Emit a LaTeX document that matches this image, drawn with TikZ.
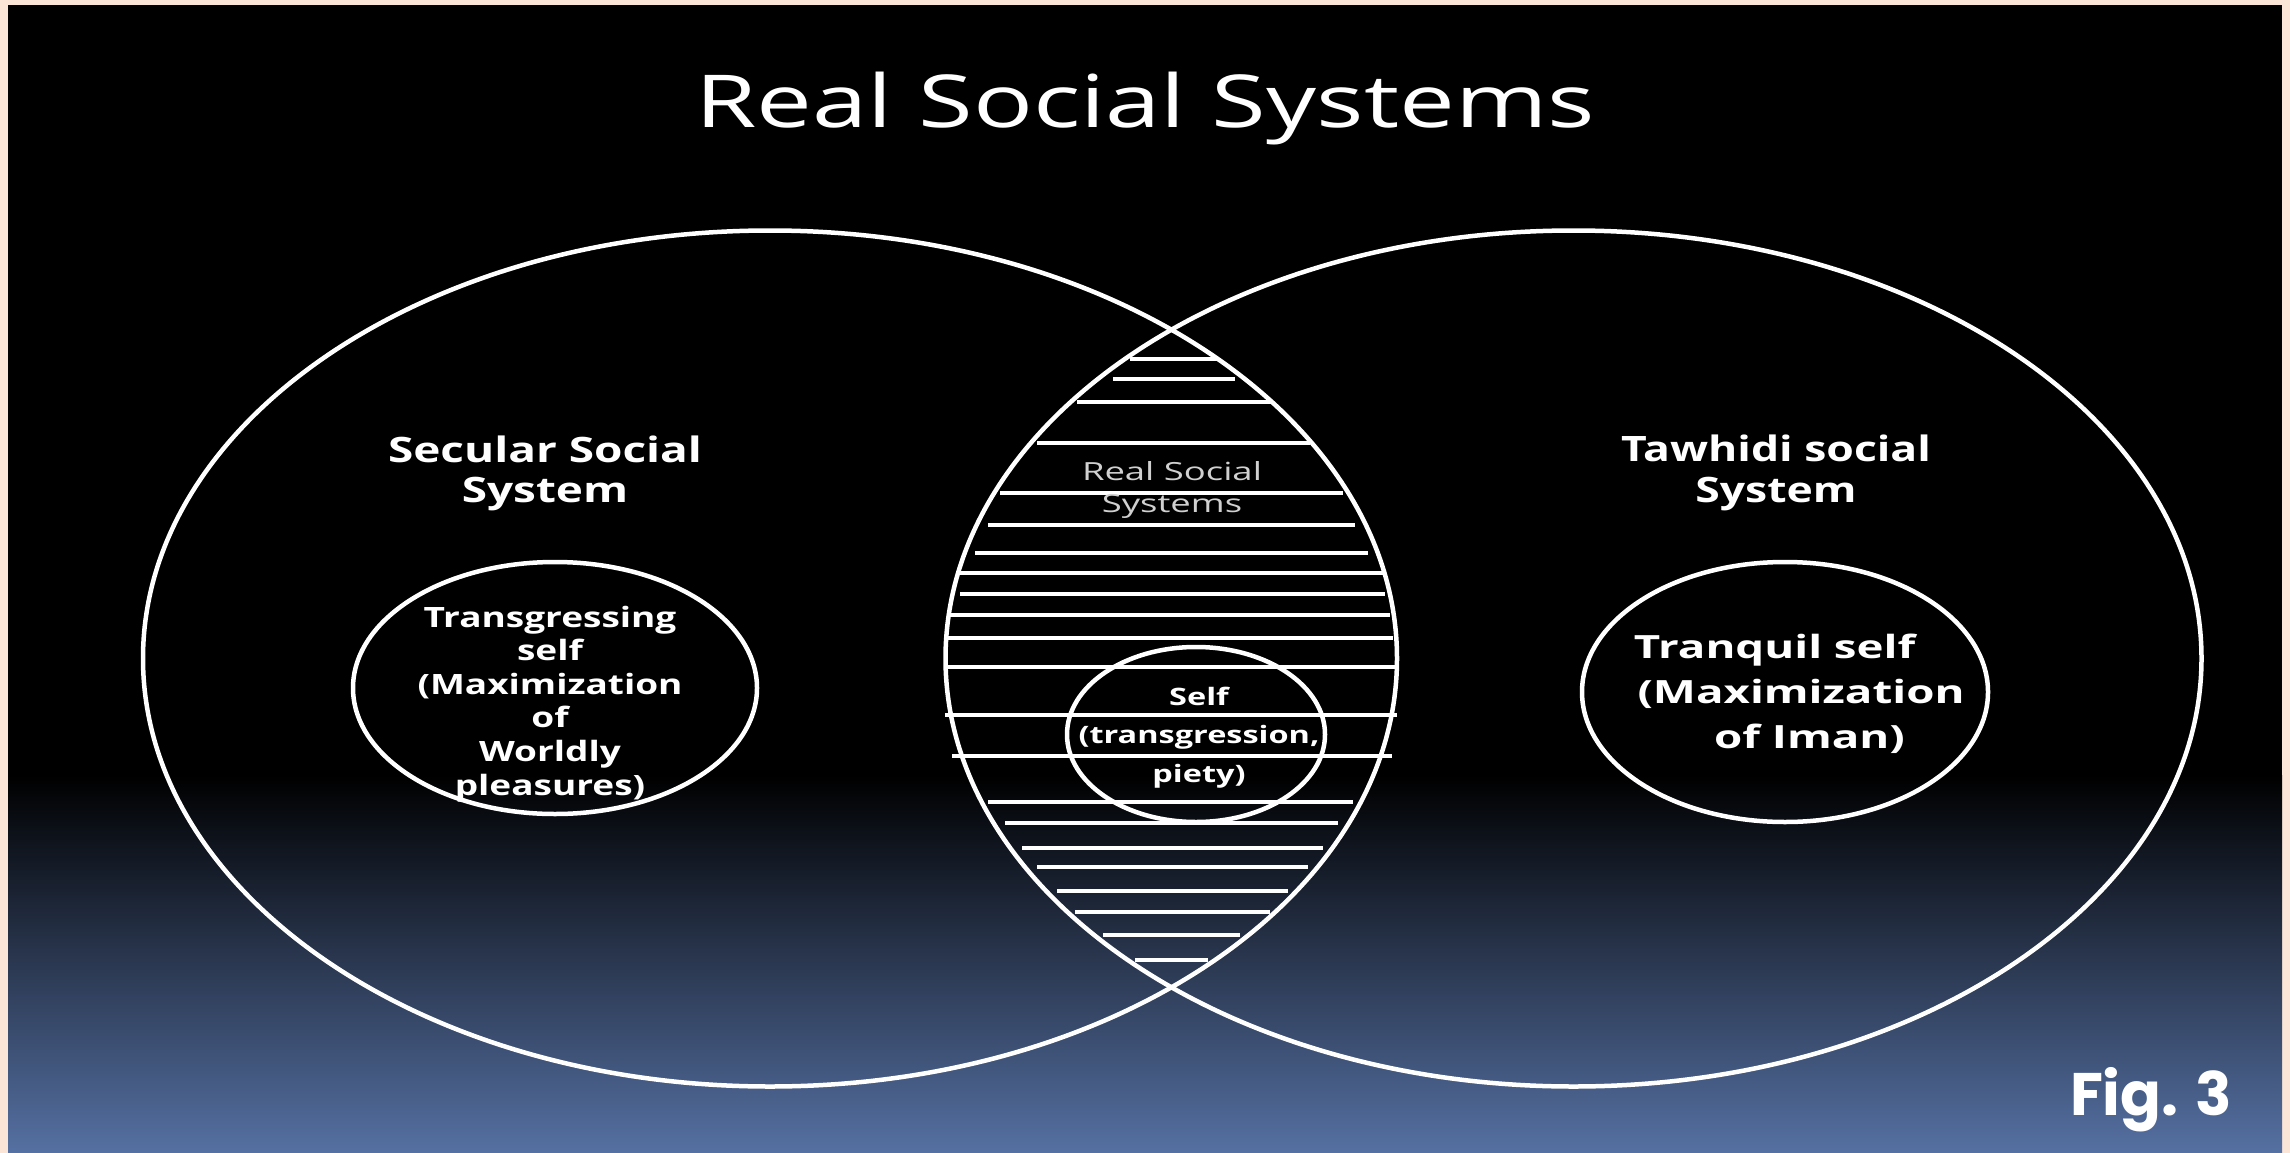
\documentclass[tikz,border=0pt]{standalone}
\usepackage{fontspec}
\usepackage{graphicx}
\newfontfamily\osans{Open Sans}
\newfontfamily\popp{Poppins}
\definecolor{peach}{HTML}{FBE5D6}
\definecolor{botblue}{HTML}{5570A2}
\definecolor{lensgray}{HTML}{D0D0D0}
\newlength\fitwd
\newcommand\fitx[4]{{#2\settowidth\fitwd{#3}\pgfmathsetmacro\fitfac{#1/\fitwd}\scalebox{\fitfac}[1]{#4}}}
\begin{document}
\begin{tikzpicture}[x=1pt,y=-1pt,
  ring/.style={draw=white, line width=4.5pt},
  hatch/.style={draw=white, line width=4pt},
  lbl/.style={text=white, inner sep=0pt, anchor=base}]
\useasboundingbox (0,0) rectangle (2290,1153);
\fill[peach] (0,0) rectangle (2290,1153);
\fill[black] (8,5) rectangle (2282,776);
\shade[top color=black, bottom color=botblue] (8,775) rectangle (2282,1153);
% hatch lines of the lens
\foreach \yy/\xa/\xb in {359/1130/1217, 379/1113/1235, 402/1077/1272, 443/1037/1310,
  493/1000/1343, 525/988/1355, 553/975/1368, 573/960/1383, 594/960/1385,
  615/950/1390, 638/947/1393, 667/947/1397, 715/945/1397, 756/952/1392,
  802/988/1353, 823/1005/1338, 848/1022/1323, 867/1037/1308, 891/1057/1288,
  912/1075/1270, 935/1103/1240, 960/1135/1208}
  \draw[hatch] (\xa,\yy) -- (\xb,\yy);
% big ellipses
\draw[ring] (770,658.5) ellipse [x radius=627pt, y radius=428pt];
\draw[ring] (1573.5,658.5) ellipse [x radius=628pt, y radius=428pt];
% small ellipses
\draw[ring] (555,688) ellipse [x radius=202pt, y radius=126pt];
\draw[ring] (1785,692) ellipse [x radius=203pt, y radius=130pt];
\draw[ring] (1196,734.5) ellipse [x radius=129pt, y radius=87.5pt];
% texts
\node[lbl] (title) at (1145,128)
  {\fitx{900}{\osans\fontsize{73}{80}\selectfont}{Real Social Systems}{Real Social Systems}};
\node[lbl] (secular) at (545,462)
  {\fitx{314}{\osans\bfseries\fontsize{35}{40.5}\selectfont}{Secular Social}{\begin{tabular}[t]{@{}c@{}}Secular Social\\System\end{tabular}}};
\node[lbl] (transg) at (550,627)
  {\fitx{265}{\osans\bfseries\fontsize{28}{33.6}\selectfont}{(Maximization}{\begin{tabular}[t]{@{}c@{}}Transgressing\\self\\(Maximization\\of\\Worldly\\pleasures)\end{tabular}}};
\node[lbl] (tawhidi) at (1776,461)
  {\fitx{310}{\osans\bfseries\fontsize{35}{41}\selectfont}{Tawhidi social}{\begin{tabular}[t]{@{}c@{}}Tawhidi social\\System\end{tabular}}};
\node[lbl] (tranquil) at (1801,658)
  {\fitx{327}{\osans\bfseries\fontsize{32}{45}\selectfont}{(Maximization}{\begin{tabular}[t]{@{}c@{}}\hspace*{-37pt}Tranquil self\\(Maximization\\\hspace*{12pt}of Iman)\end{tabular}}};
\node[lbl] (selfl) at (1199,705)
  {\fitx{241}{\osans\bfseries\fontsize{24}{38.5}\selectfont}{(transgression,}{\begin{tabular}[t]{@{}c@{}}Self\\(transgression,\\piety)\end{tabular}}};
\node[lbl, text=lensgray] (lens) at (1172,480)
  {\fitx{180}{\osans\fontsize{25}{32}\selectfont}{Real Social}{\begin{tabular}[t]{@{}c@{}}Real Social\\Systems\end{tabular}}};
\node[lbl] (fig) at (2151,1115)
  {\fitx{162}{\popp\bfseries\fontsize{60}{66}\selectfont}{Fig. 3}{Fig. 3}};
\end{tikzpicture}
\end{document}
